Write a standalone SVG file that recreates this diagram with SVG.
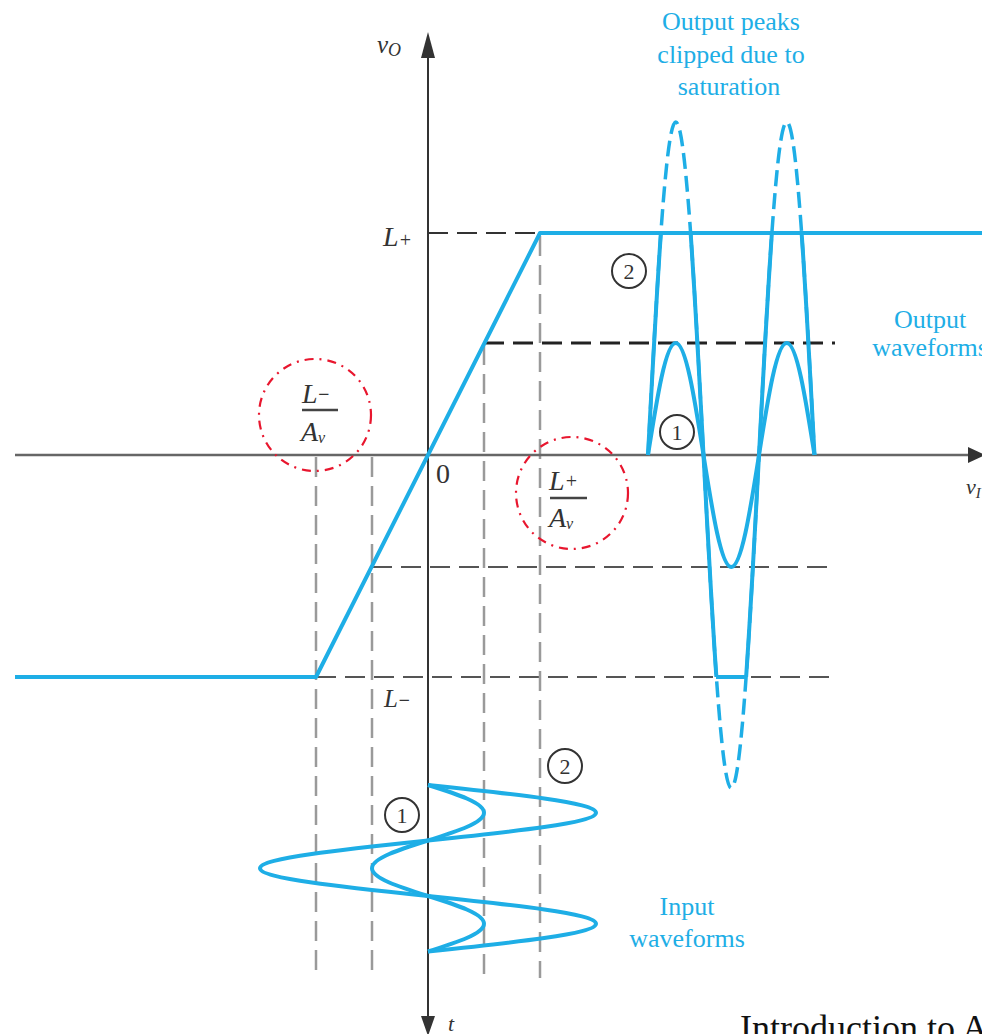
<svg xmlns="http://www.w3.org/2000/svg" width="982" height="1034" viewBox="0 0 982 1034">
<defs>
<style>
.blue{fill:none;stroke:#1eaee6;stroke-width:4;stroke-linejoin:round;stroke-linecap:butt}
.bdash{fill:none;stroke:#1eaee6;stroke-width:3.5;stroke-dasharray:16 7}
.vd{stroke:#9a9a9a;stroke-width:2.5;stroke-dasharray:20 9;fill:none}
.hd{stroke:#555;stroke-width:2.2;stroke-dasharray:20 9;fill:none}
.hdk{stroke:#222;stroke-width:3;stroke-dasharray:20 9;fill:none}
.red{fill:none;stroke:#e8162e;stroke-width:2.2;stroke-dasharray:9 6 2 6}
.cn{fill:none;stroke:#333;stroke-width:2}
.lab{font-family:"Liberation Serif",serif;font-style:italic;fill:#333}
.num{font-family:"Liberation Serif",serif;fill:#333;font-size:22px;text-anchor:middle}
.bt{font-family:"Liberation Serif",serif;fill:#1eaee6;font-size:26px;text-anchor:middle}
</style>
<clipPath id="band"><rect x="600" y="233" width="300" height="444"/></clipPath>
</defs>
<rect width="982" height="1034" fill="#fff"/>

<g id="guides">
<line class="hd" x1="428" y1="233" x2="540" y2="233" style="stroke:#333"/>
<line class="hdk" x1="484" y1="343" x2="835" y2="343"/>
<line class="hd" x1="372" y1="567" x2="835" y2="567"/>
<line class="hd" x1="316" y1="677" x2="835" y2="677"/>
<line class="vd" x1="316" y1="457" x2="316" y2="978"/>
<line class="vd" x1="372" y1="457" x2="372" y2="978"/>
<line class="vd" x1="484" y1="345" x2="484" y2="978"/>
<line class="vd" x1="540" y1="236" x2="540" y2="978"/>
</g>

<g id="axes">
<line x1="15" y1="455" x2="970" y2="455" stroke="#666" stroke-width="2.5"/>
<polygon points="985,455 968,447 968,463" fill="#333"/>
<line x1="428" y1="50" x2="428" y2="1020" stroke="#333" stroke-width="2"/>
<polygon points="428,32 421,58 435,58" fill="#333"/>
<polygon points="428,1036 421,1016 435,1016" fill="#333"/>
<text class="lab" x="377" y="53" font-size="25">v<tspan font-size="18" dy="3">O</tspan></text>
<text class="lab" x="966" y="494" font-size="22">v<tspan font-size="15" dy="4">I</tspan></text>
<text class="lab" x="448" y="1031" font-size="22">t</text>
<text class="lab" x="383" y="246" font-size="28">L<tspan font-size="20" dy="1">+</tspan></text>
<text class="lab" x="384" y="707" font-size="25">L<tspan font-size="20" font-weight="bold">−</tspan></text>
<text x="436" y="483" font-family="Liberation Serif, serif" font-size="28" fill="#333">0</text>
</g>

<g id="transfer">
<polyline class="blue" points="15,677 316,677 540,233 982,233"/>
</g>

<g id="label-lminus">
<circle class="red" cx="315" cy="415" r="56"/>
<text class="lab" x="302" y="403" font-size="28">L<tspan font-size="20" dy="-2" font-weight="bold">−</tspan></text>
<line x1="302" y1="410" x2="338" y2="410" stroke="#444" stroke-width="2.5"/>
<text class="lab" x="301" y="441" font-size="28">A<tspan font-size="16" dy="2">v</tspan></text>
</g>

<g id="label-lplus">
<circle class="red" cx="572" cy="493" r="56"/>
<text class="lab" x="549" y="490" font-size="28">L<tspan font-size="20" dy="-2">+</tspan></text>
<line x1="550" y1="498" x2="587" y2="498" stroke="#444" stroke-width="2.5"/>
<text class="lab" x="549" y="527" font-size="28">A<tspan font-size="16" dy="2">v</tspan></text>
</g>

<g id="output-waveforms">
<path class="bdash" d="M648,455 C657.05,284.4 665.69,122 675.75,122 C685.81,122 694.45,284.4 703.5,455 C712.55,625.6 721.19,788 731.25,788 C741.31,788 749.95,625.6 759,455 C768.05,284.4 776.69,122 786.75,122 C796.81,122 805.45,284.4 814.5,455"/>
<path class="blue" clip-path="url(#band)" d="M648,455 C657.05,284.4 665.69,122 675.75,122 C685.81,122 694.45,284.4 703.5,455 C712.55,625.6 721.19,788 731.25,788 C741.31,788 749.95,625.6 759,455 C768.05,284.4 776.69,122 786.75,122 C796.81,122 805.45,284.4 814.5,455"/>
<line x1="716" y1="677" x2="746" y2="677" stroke="#1eaee6" stroke-width="4"/>
<path class="blue" d="M648,455 C657.05,397.6 665.69,343 675.75,343 C685.81,343 694.45,397.6 703.5,455 C712.55,512.4 721.19,567 731.25,567 C741.31,567 749.95,512.4 759,455 C768.05,397.6 776.69,343 786.75,343 C796.81,343 805.45,397.6 814.5,455"/>
</g>

<g id="input-waveforms">
<path class="blue" d="M428,785 C456.7,794.05 484,802.69 484,812.75 C484,822.81 456.7,831.45 428,840.5 C399.3,849.55 372,858.19 372,868.25 C372,878.31 399.3,886.95 428,896 C456.7,905.05 484,913.69 484,923.75 C484,933.81 456.7,942.45 428,951.5"/>
<path class="blue" d="M428,785 C514,794.05 596,802.69 596,812.75 C596,822.81 514,831.45 428,840.5 C342,849.55 260,858.19 260,868.25 C260,878.31 342,886.95 428,896 C514,905.05 596,913.69 596,923.75 C596,933.81 514,942.45 428,951.5"/>
</g>

<g id="mark-out-2"><circle class="cn" cx="629" cy="271" r="17"/><text class="num" x="629" y="279">2</text></g>
<g id="mark-out-1"><circle class="cn" cx="677" cy="432" r="17"/><text class="num" x="677" y="440">1</text></g>
<g id="mark-in-1"><circle class="cn" cx="402" cy="815" r="17"/><text class="num" x="402" y="823">1</text></g>
<g id="mark-in-2"><circle class="cn" cx="565" cy="766" r="17"/><text class="num" x="565" y="774">2</text></g>

<g id="text-clipped">
<text class="bt" x="731" y="30">Output peaks</text>
<text class="bt" x="731" y="63">clipped due to</text>
<text class="bt" x="729" y="95">saturation</text>
</g>
<g id="text-output">
<text class="bt" x="930" y="328">Output</text>
<text class="bt" x="930" y="356">waveforms</text>
</g>
<g id="text-input">
<text class="bt" x="687" y="915">Input</text>
<text class="bt" x="687" y="947">waveforms</text>
</g>

<text x="740" y="1040" font-family="Liberation Serif, serif" font-size="36" fill="#111">Introduction to A</text>
</svg>
